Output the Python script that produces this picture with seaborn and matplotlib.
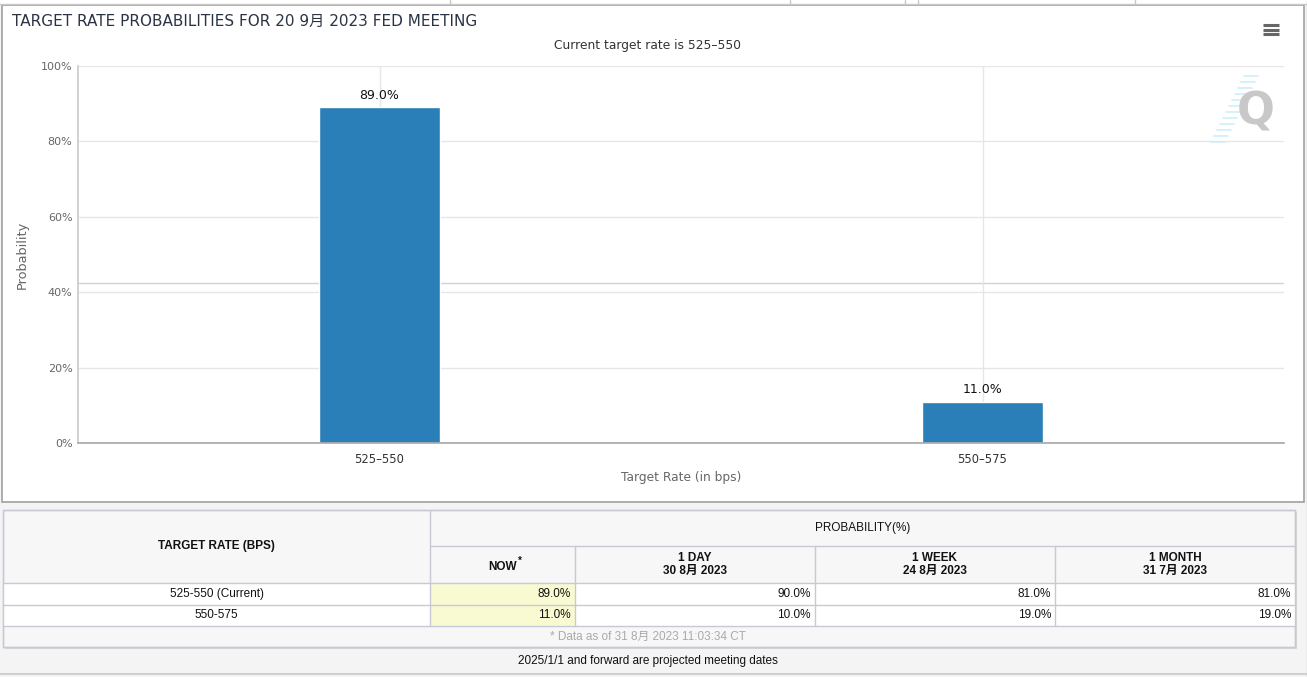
import matplotlib
matplotlib.use('Agg')
import matplotlib.pyplot as plt
import matplotlib.patches as mpatches
import seaborn as sns
import pandas as pd

# chart data
rates = ['525–550', '550–575']
probs = [89.0, 11.0]

# table data
table_rates = ['525-550 (Current)', '550-575']
now = [89.0, 11.0]
one_day = [90.0, 10.0]
one_week = [81.0, 19.0]
one_month = [81.0, 19.0]
col_heads = ['NOW', '1 DAY\n30 8月 2023', '1 WEEK\n24 8月 2023', '1 MONTH\n31 7月 2023']

W, H = 1307, 677
sns.set_theme(style='white')
plt.rcParams['font.family'] = ['DejaVu Sans', 'Noto Sans CJK JP']
TF = ['Liberation Sans', 'Noto Sans CJK JP']   # table font

fig = plt.figure(figsize=(W / 100, H / 100), dpi=100)
fig.patch.set_facecolor('#f4f4f4')

# background layer in pixel coordinates
bg = fig.add_axes([0, 0, 1, 1], zorder=0)
bg.set_xlim(0, W)
bg.set_ylim(H, 0)
bg.axis('off')

# tab strip at the very top
bg.add_patch(mpatches.Rectangle((0, 0), W, 5, facecolor='white', edgecolor='none'))
for x in [450, 790, 905, 918, 1135]:
    bg.plot([x, x], [0, 4], color='#c8c8c8', lw=1)
bg.plot([0, W], [4, 4], color='#c8c8c8', lw=1)

# chart panel
bg.add_patch(mpatches.Rectangle((2, 5), 1302, 497, facecolor='white', edgecolor='#a0a0a0', lw=1.2))
bg.plot([1307, 1307], [0, H], color='#c8c8c8', lw=1)

bg.text(12, 21, 'TARGET RATE PROBABILITIES FOR 20 9月 2023 FED MEETING', fontsize=11,
        color='#2b3445', va='center', ha='left')
bg.text(648, 45, 'Current target rate is 525–550', fontsize=8.8, color='#333333',
        va='center', ha='center')

# hamburger menu
for y in [25, 29.5, 34]:
    bg.plot([1263, 1279], [y, y], color='#666666', lw=2.2, solid_capstyle='butt')

# watermark
for i in range(12):
    yy = 76 + i * 6
    x0 = 1258 - i * 3.0
    bg.plot([x0 - 14, x0], [yy, yy], color='#d3f0fc', lw=1.3)
bg.text(1256, 112, 'Q', fontsize=32, color='#c8c8c8', fontweight='bold', ha='center', va='center')

# ---- bar chart ----
ax = fig.add_axes([78 / W, 1 - 443 / H, 1206 / W, 377 / H], zorder=1)
ax.set_facecolor('none')
df = pd.DataFrame({'rate': rates, 'prob': probs})
sns.barplot(data=df, x='rate', y='prob', color='#2a7fb8', saturation=1, width=0.2, ax=ax)
ax.set_xlim(-0.5, 1.5)
ax.set_ylim(0, 100)
ax.set_yticks([0, 20, 40, 60, 80, 100])
ax.set_yticklabels([f'{v}%' for v in [0, 20, 40, 60, 80, 100]], fontsize=8, color='#666666')
ax.tick_params(axis='y', length=0, pad=4)
ax.tick_params(axis='x', length=7, color='#d8d8d8', labelsize=8.3, labelcolor='#333333', pad=0)
ax.grid(True, axis='both', color='#e6e6e6', lw=1)
ax.set_axisbelow(True)
ax.axhline(42.4, color='#d2d2d2', lw=1, zorder=0)
for s in ['top', 'right']:
    ax.spines[s].set_visible(False)
ax.spines['left'].set_color('#cccccc')
ax.spines['bottom'].set_color('#aaaaaa')
ax.set_xlabel('Target Rate (in bps)', fontsize=8.8, color='#666666', labelpad=4)
ax.set_ylabel('Probability', fontsize=9.3, color='#666666', labelpad=9)
ax.bar_label(ax.containers[0], labels=[f'{v:.1f}%' for v in probs], padding=4,
             fontsize=9, color='#111111')

# ---- table ----
tb = fig.add_axes([0, 0, 1, 1], zorder=2)
tb.set_xlim(0, W)
tb.set_ylim(H, 0)
tb.axis('off')
tb.patch.set_alpha(0)

line_c = '#c8c8d6'
xs = [3, 430, 575, 815, 1055, 1295]
y_top, y_h1, y_h2, y_r1, y_r2, y_bot = 510, 546, 583, 605, 626, 647

# shadow + header background
tb.add_patch(mpatches.Rectangle((5, y_top + 2), xs[-1] - 3, y_bot - y_top, facecolor='#d8d8d8',
                                edgecolor='none'))
tb.add_patch(mpatches.Rectangle((3, y_top), xs[-1] - 3, y_bot - y_top, facecolor='#f7f7f7',
                                edgecolor=line_c, lw=1))
# data rows
for r, (ya, yb) in enumerate([(y_h2, y_r1), (y_r1, y_r2)]):
    tb.add_patch(mpatches.Rectangle((3, ya), xs[-1] - 3, yb - ya, facecolor='white', edgecolor='none'))
    tb.add_patch(mpatches.Rectangle((xs[1], ya), xs[2] - xs[1], yb - ya, facecolor='#fafad2',
                                    edgecolor='none'))

# grid lines
tb.plot([3, xs[-1]], [y_top, y_top], color=line_c, lw=1)
tb.plot([xs[1], xs[-1]], [y_h1, y_h1], color=line_c, lw=1)
for y in [y_h2, y_r1, y_r2, y_bot]:
    tb.plot([3, xs[-1]], [y, y], color=line_c, lw=1)
tb.plot([xs[1], xs[1]], [y_top, y_r2], color=line_c, lw=1)
for x in xs[2:-1]:
    tb.plot([x, x], [y_h1, y_r2], color=line_c, lw=1)
tb.plot([3, 3], [y_top, y_bot], color=line_c, lw=1)
tb.plot([xs[-1], xs[-1]], [y_top, y_bot], color=line_c, lw=1)

tb.text((xs[0] + xs[1]) / 2, (y_top + y_h2) / 2, 'TARGET RATE (BPS)', family=TF, fontsize=8.5,
        fontweight='bold', ha='center', va='center', color='#111111')
tb.text((xs[1] + xs[-1]) / 2, (y_top + y_h1) / 2, 'PROBABILITY(%)', family=TF, fontsize=8.5,
        ha='center', va='center', color='#111111')
for i, head in enumerate(col_heads):
    cx = (xs[i + 1] + xs[i + 2]) / 2
    tb.text(cx, (y_h1 + y_h2) / 2 + (2 if i == 0 else 0), head, family=TF, fontsize=8.5,
            fontweight='bold', ha='center', va='center', color='#111111', linespacing=1.1)
tb.text((xs[1] + xs[2]) / 2 + 17, (y_h1 + y_h2) / 2 - 4, '*', family=TF, fontsize=7,
        fontweight='bold', ha='center', va='center', color='#111111')

row_ys = [(y_h2 + y_r1) / 2, (y_r1 + y_r2) / 2]
cols = [now, one_day, one_week, one_month]
for r in range(2):
    tb.text((xs[0] + xs[1]) / 2, row_ys[r], table_rates[r], family=TF, fontsize=8.5,
            ha='center', va='center', color='#111111')
    for c, vals in enumerate(cols):
        tb.text(xs[c + 2] - 4, row_ys[r], f'{vals[r]:.1f}%', family=TF, fontsize=8.5,
                ha='right', va='center', color='#111111')

tb.text(648, (y_r2 + y_bot) / 2, '* Data as of 31 8月 2023 11:03:34 CT', family=TF, fontsize=8.5,
        ha='center', va='center', color='#aaaaaa')
tb.text(648, 661, '2025/1/1 and forward are projected meeting dates', family=TF, fontsize=8.5,
        ha='center', va='center', color='#111111')
tb.plot([0, W], [674, 674], color='#c8c8c8', lw=1.2)

fig.savefig('out.png', dpi=100, facecolor=fig.get_facecolor())
